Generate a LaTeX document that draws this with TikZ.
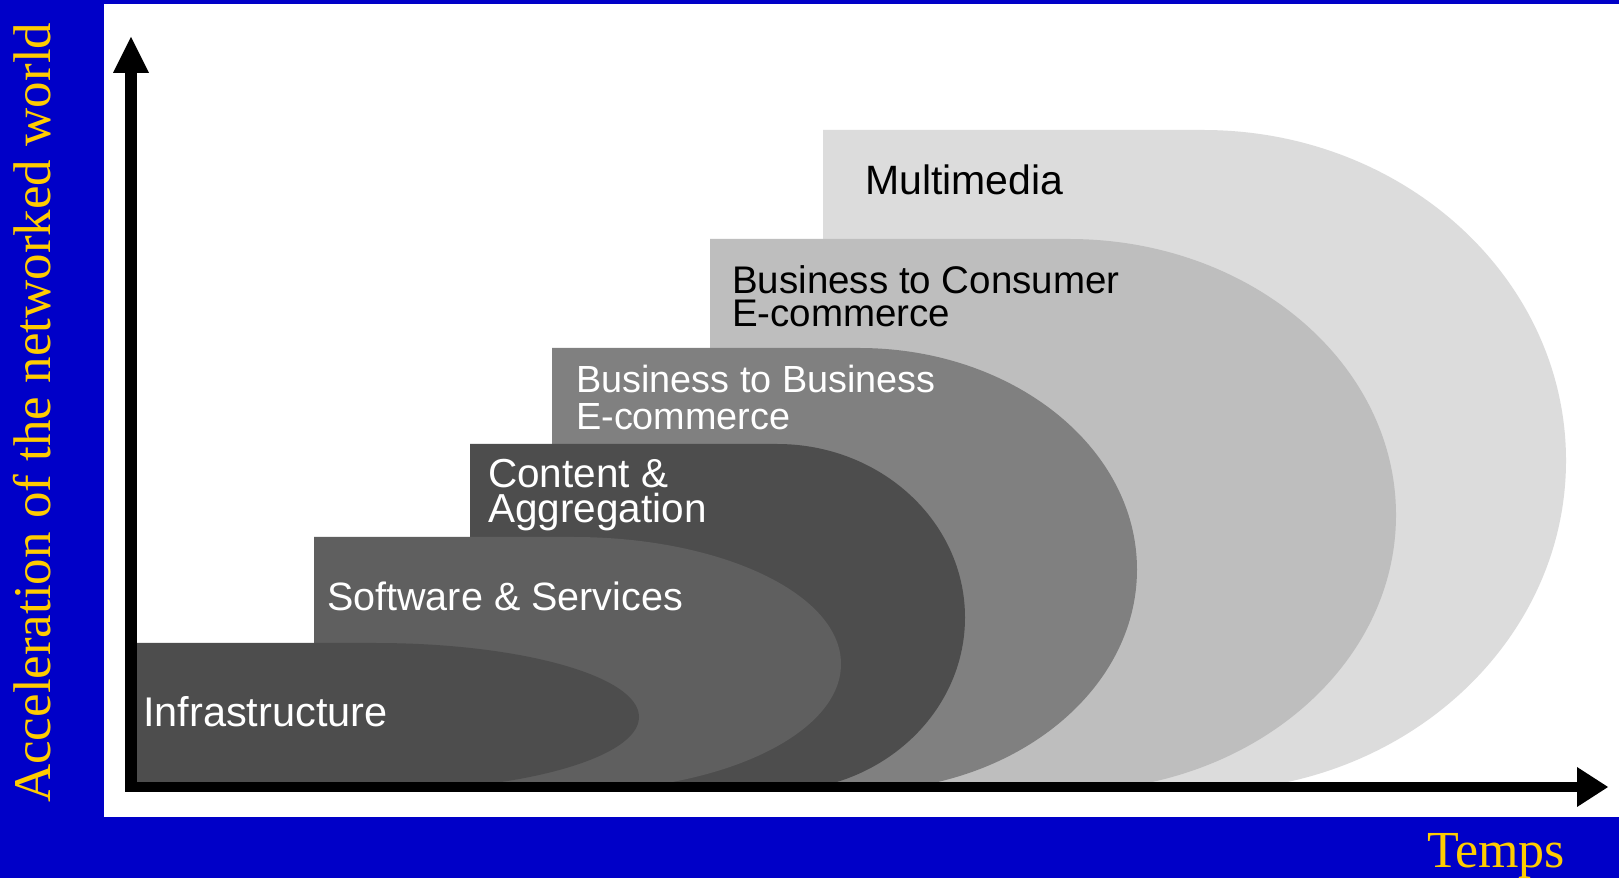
\documentclass[tikz,border=0pt]{standalone}
\usepackage{fontspec}
\newfontfamily\arialf{Liberation Sans}
\newfontfamily\tnrf{Liberation Serif}
\definecolor{bgblue}{HTML}{0000C8}
\definecolor{goldtxt}{HTML}{FFCC00}
\definecolor{cInfra}{HTML}{4D4D4D}
\definecolor{cSoft}{HTML}{5F5F5F}
\definecolor{cCont}{HTML}{4D4D4D}
\definecolor{cBtoB}{HTML}{808080}
\definecolor{cBtoC}{HTML}{BEBEBE}
\definecolor{cMM}{HTML}{DCDCDC}
\tikzset{
  lbl/.style={inner sep=0pt, anchor=base west, align=left},
  wlbl/.style={lbl, text=white},
  klbl/.style={lbl, text=black},
  axistxt/.style={inner sep=0pt, anchor=base west, text=goldtxt},
}
\begin{document}
\begin{tikzpicture}[x=1pt,y=1pt]
\useasboundingbox (0,0) rectangle (1619,878);
% background
\fill[bgblue] (0,0) rectangle (1619,878);
\fill[white] (104,61) rectangle (1619,874);
% bands (back to front)
\fill[cMM]   (823,87) -- (823,748) -- (1203,748) arc[start angle=90,end angle=-90,x radius=363,y radius=330.5] -- cycle;
\fill[cBtoC] (710,87) -- (710,639) -- (1069,639) arc[start angle=90,end angle=-90,x radius=327,y radius=276] -- cycle;
\fill[cBtoB] (552,87) -- (552,530) -- (859,530) arc[start angle=90,end angle=-90,x radius=278,y radius=221.5] -- cycle;
\fill[cCont] (470,87) -- (470,434) -- (777,434) arc[start angle=90,end angle=-90,x radius=188,y radius=173.5] -- cycle;
\fill[cSoft] (314,87) -- (314,341) -- (573,341) arc[start angle=90,end angle=-90,x radius=268,y radius=127] -- cycle;
\fill[cInfra] (131,87) -- (131,235) -- (375,235) arc[start angle=90,end angle=-90,x radius=264,y radius=74] -- cycle;
% labels (base anchor = baseline of the last line)
\node[klbl, font=\arialf\fontsize{41}{41}\selectfont] (mm) at (865,683) {Multimedia};
\node[klbl, font=\arialf\fontsize{38.5}{33}\selectfont] (btoc) at (732,551) {Business to Consumer\\E-commerce};
\node[wlbl, font=\arialf\fontsize{37.8}{37}\selectfont] (btob) at (576,448) {Business to Business\\E-commerce};
\node[wlbl, font=\arialf\fontsize{40.5}{35}\selectfont] (cont) at (488,355) {Content \&\\Aggregation};
\node[wlbl, font=\arialf\fontsize{39.5}{39.5}\selectfont] (soft) at (327,267) {Software \& Services};
\node[wlbl, font=\arialf\fontsize{41.5}{41.5}\selectfont] (infra) at (143,151) {Infrastructure};
% axes
\coordinate (o) at (131,91);
\coordinate (ytip) at (131,841);
\coordinate (xtip) at (1608,91);
\draw[black, line width=12pt] ([yshift=-5pt]o) -- ([yshift=-36pt]ytip);
\fill[black] ([xshift=-18pt,yshift=-36pt]ytip) -- (ytip) -- ([xshift=18pt,yshift=-36pt]ytip) -- cycle;
\draw[black, line width=10pt] ([xshift=-6pt]o) -- ([xshift=-31pt]xtip);
\fill[black] ([xshift=-31pt,yshift=20pt]xtip) -- (xtip) -- ([xshift=-31pt,yshift=-20pt]xtip) -- cycle;
% axis titles
\node[axistxt, rotate=90, font=\tnrf\fontsize{53}{53}\selectfont] (ylab) at (50.5,75) {Acceleration of the networked world};
\node[axistxt, font=\tnrf\fontsize{52}{52}\selectfont] (xlab) at (1427,11) {Temps};
\end{tikzpicture}
\end{document}
